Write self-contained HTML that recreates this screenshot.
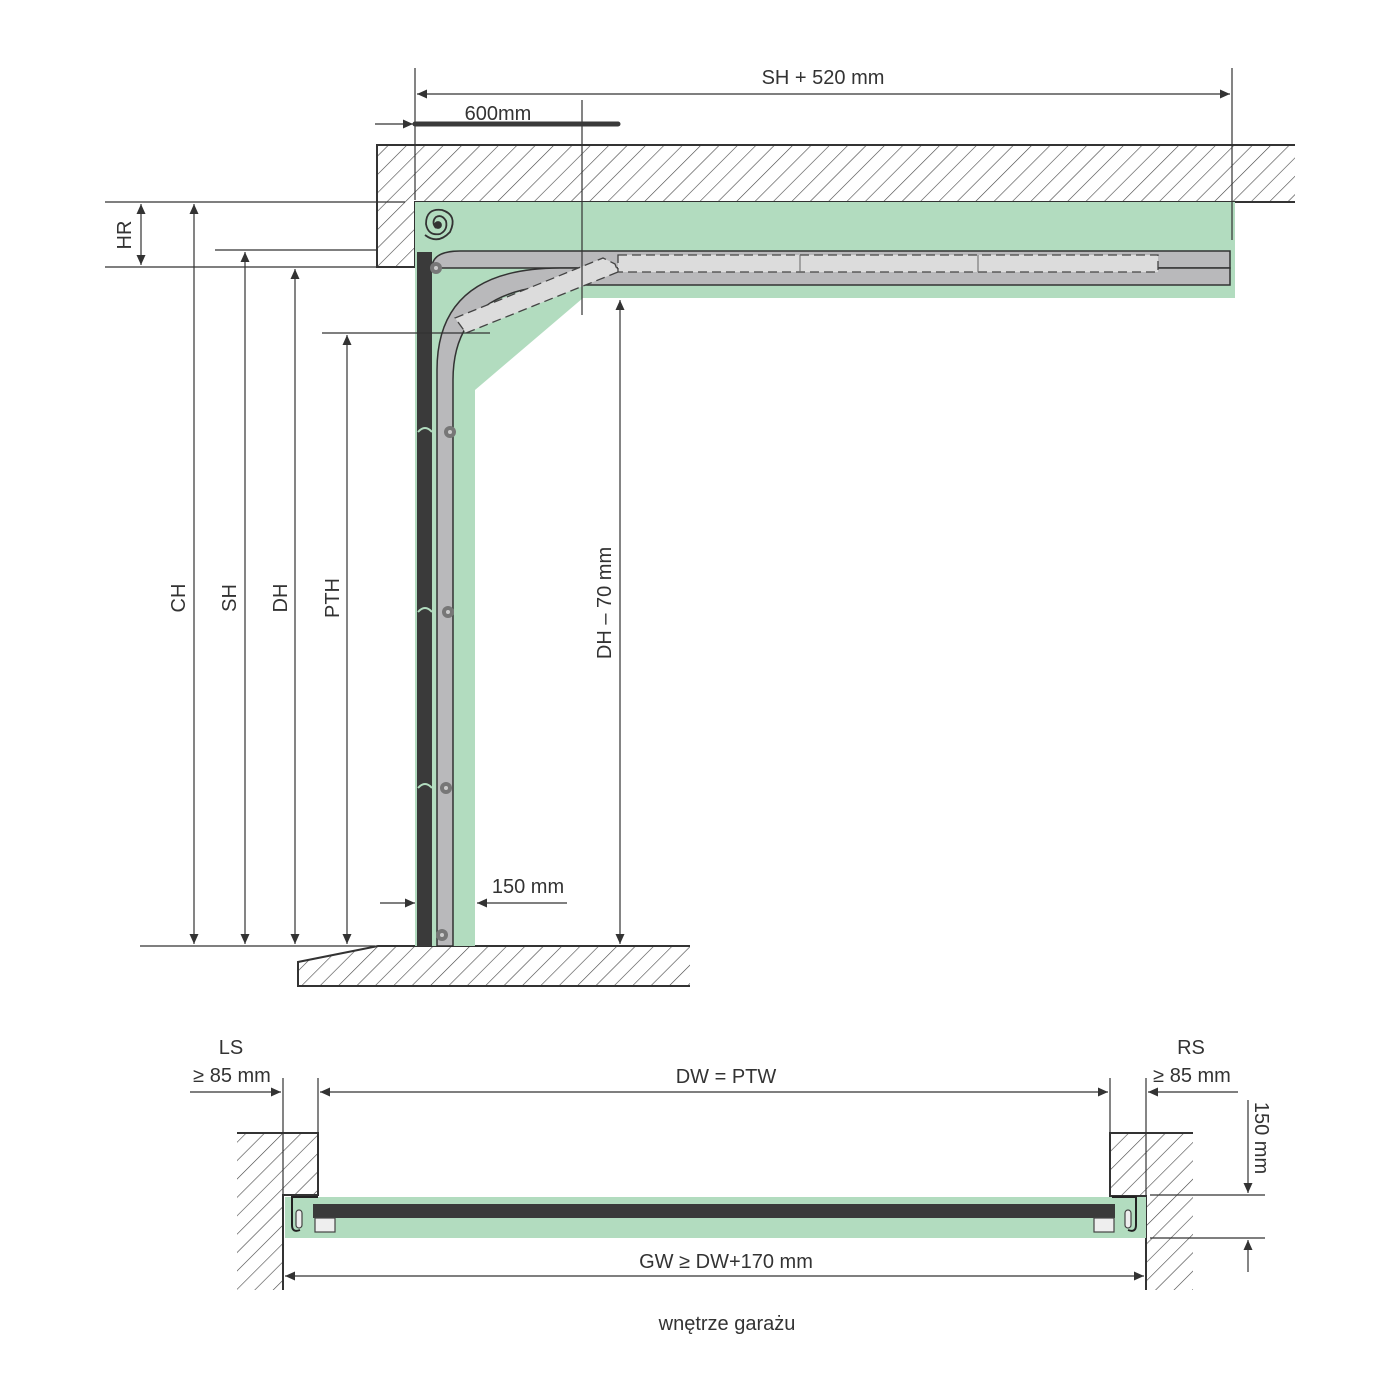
<!DOCTYPE html>
<html><head><meta charset="utf-8"><style>
html,body{margin:0;padding:0;background:#fff;}
svg{display:block}
text{font-family:"Liberation Sans",sans-serif;fill:#333;}
</style></head><body>
<svg width="1400" height="1400" viewBox="0 0 1400 1400" xmlns="http://www.w3.org/2000/svg">
<defs>
<pattern id="h" patternUnits="userSpaceOnUse" width="13" height="13" patternTransform="rotate(45)">
<line x1="0" y1="0" x2="0" y2="13" stroke="#444" stroke-width="1.2"/>
</pattern>
<marker id="a" viewBox="0 0 10 10" refX="10" refY="5" markerWidth="15" markerHeight="10" markerUnits="userSpaceOnUse" orient="auto-start-reverse">
<path d="M0,0.5 L10,5 L0,9.5 z" fill="#333"/></marker>
</defs>

<!-- ceiling -->
<path d="M377,145 H1295 V202 H415 V267 H377 Z" fill="url(#h)"/>
<path d="M1295,145 H377 V267 H415 V202 H1295" fill="none" stroke="#333" stroke-width="2"/>
<!-- floor -->
<path d="M298,962 L378,946 H690 V986 H298 Z" fill="url(#h)"/>
<path d="M690,946 H378 L298,962 V986 H690" fill="none" stroke="#333" stroke-width="2"/>

<!-- green -->
<path d="M415,202 H1235 V298 H583 L475,390 V946 H415 Z" fill="#b2dcbf"/>

<!-- horizontal upper track -->
<path d="M432,268 Q432,251 460,251 H1230 V268 Z" fill="#b9b9bb" stroke="#333" stroke-width="1.5"/>
<!-- curved lower track -->
<path d="M437,946 V370 Q437,268 560,268 H1230 V285 H570 Q453,285 453,380 V946 Z" fill="#b9b9bb" stroke="#333" stroke-width="1.5"/>
<!-- dashed panels -->
<path d="M455,318 L603,258 L615,264 L618,272 L466,333 Z" fill="#dcdcdc" stroke="#444" stroke-width="1.3" stroke-dasharray="9,5"/>
<rect x="618" y="255" width="540" height="17" fill="#dcdcdc" stroke="#444" stroke-width="1.3" stroke-dasharray="9,5"/>
<line x1="800" y1="255" x2="800" y2="272" stroke="#666"/>
<line x1="978" y1="255" x2="978" y2="272" stroke="#666"/>
<!-- door panel -->
<rect x="417" y="252" width="15" height="694" fill="#3a3a3a"/>
<g fill="none" stroke="#b2dcbf" stroke-width="2">
<path d="M418,432 Q425,424 432,432"/><path d="M418,612 Q425,604 432,612"/><path d="M418,788 Q425,780 432,788"/></g>
<!-- rollers -->
<g fill="#777"><circle cx="436" cy="268" r="6"/><circle cx="450" cy="432" r="6"/><circle cx="448" cy="612" r="6"/><circle cx="446" cy="788" r="6"/><circle cx="442" cy="935" r="6"/></g>
<g fill="#ccc"><circle cx="436" cy="268" r="2"/><circle cx="450" cy="432" r="2"/><circle cx="448" cy="612" r="2"/><circle cx="446" cy="788" r="2"/><circle cx="442" cy="935" r="2"/></g>
<!-- spring -->
<g fill="none" stroke="#333" stroke-width="1.8"><path d="M425,235 Q438,245 450,232 Q458,215 442,210 Q426,208 426,224 Q428,236 440,234 Q448,230 446,221 Q442,214 436,217 Q431,222 436,228"/><circle cx="438" cy="225" r="3" fill="#333"/></g>

<!-- dimension lines -->
<g stroke="#333" stroke-width="1.2" fill="none">
<line x1="415" y1="68" x2="415" y2="200"/>
<line x1="1232" y1="68" x2="1232" y2="240"/>
<line x1="582" y1="100" x2="582" y2="315"/>
<line x1="417" y1="94" x2="1230" y2="94" marker-start="url(#a)" marker-end="url(#a)"/>
<line x1="375" y1="124" x2="413" y2="124" marker-end="url(#a)"/>
<line x1="105" y1="202" x2="405" y2="202"/>
<line x1="105" y1="267" x2="377" y2="267"/>
<line x1="215" y1="250" x2="377" y2="250"/>
<line x1="322" y1="333" x2="490" y2="333"/>
<line x1="140" y1="946" x2="375" y2="946"/>
<line x1="141" y1="204" x2="141" y2="265" marker-start="url(#a)" marker-end="url(#a)"/>
<line x1="194" y1="204" x2="194" y2="944" marker-start="url(#a)" marker-end="url(#a)"/>
<line x1="245" y1="252" x2="245" y2="944" marker-start="url(#a)" marker-end="url(#a)"/>
<line x1="295" y1="269" x2="295" y2="944" marker-start="url(#a)" marker-end="url(#a)"/>
<line x1="347" y1="335" x2="347" y2="944" marker-start="url(#a)" marker-end="url(#a)"/>
<line x1="620" y1="300" x2="620" y2="944" marker-start="url(#a)" marker-end="url(#a)"/>
<line x1="380" y1="903" x2="415" y2="903" marker-end="url(#a)"/>
<line x1="567" y1="903" x2="477" y2="903" marker-end="url(#a)"/>
</g>
<line x1="415" y1="124" x2="618" y2="124" stroke="#3a3a3a" stroke-width="5" stroke-linecap="round"/>

<g font-size="20">
<text x="823" y="84" text-anchor="middle">SH + 520 mm</text>
<text x="498" y="120" text-anchor="middle">600mm</text>
<text x="528" y="893" text-anchor="middle">150 mm</text>
<text transform="translate(131,235) rotate(-90)" text-anchor="middle">HR</text>
<text transform="translate(185,598) rotate(-90)" text-anchor="middle">CH</text>
<text transform="translate(236,598) rotate(-90)" text-anchor="middle">SH</text>
<text transform="translate(287,598) rotate(-90)" text-anchor="middle">DH</text>
<text transform="translate(339,598) rotate(-90)" text-anchor="middle">PTH</text>
<text transform="translate(611,603) rotate(-90)" text-anchor="middle">DH – 70 mm</text>
</g>

<!-- plan view -->
<path d="M237,1133 H318 V1195 H283 V1290 H237 Z" fill="url(#h)"/>
<path d="M237,1133 H318 V1195 H283 V1290" fill="none" stroke="#333" stroke-width="2"/>
<path d="M1110,1133 H1193 V1290 H1146 V1196 H1110 Z" fill="url(#h)"/>
<path d="M1193,1133 H1110 V1196 H1146 V1290" fill="none" stroke="#333" stroke-width="2"/>
<rect x="285" y="1197" width="861" height="41" fill="#b2dcbf"/>
<rect x="313" y="1204" width="802" height="14" fill="#3a3a3a"/>
<g fill="#eee" stroke="#444" stroke-width="1.2">
<rect x="315" y="1218" width="20" height="14"/><rect x="1094" y="1218" width="20" height="14"/>
<rect x="296" y="1210" width="6" height="18" rx="3"/><rect x="1125" y="1210" width="6" height="18" rx="3"/>
</g>
<g fill="none" stroke="#222" stroke-width="2">
<path d="M318,1197 H292 V1225 Q292,1233 300,1230"/>
<path d="M1112,1197 H1136 V1225 Q1136,1233 1128,1230"/>
</g>
<g stroke="#333" stroke-width="1.2" fill="none">
<line x1="283" y1="1078" x2="283" y2="1195"/>
<line x1="318" y1="1078" x2="318" y2="1133"/>
<line x1="1110" y1="1078" x2="1110" y2="1133"/>
<line x1="1146" y1="1078" x2="1146" y2="1196"/>
<line x1="320" y1="1092" x2="1108" y2="1092" marker-start="url(#a)" marker-end="url(#a)"/>
<line x1="190" y1="1092" x2="281" y2="1092" marker-end="url(#a)"/>
<line x1="1238" y1="1092" x2="1148" y2="1092" marker-end="url(#a)"/>
<line x1="285" y1="1276" x2="1144" y2="1276" marker-start="url(#a)" marker-end="url(#a)"/>
<line x1="1150" y1="1195" x2="1265" y2="1195"/>
<line x1="1150" y1="1238" x2="1265" y2="1238"/>
<line x1="1248" y1="1100" x2="1248" y2="1193" marker-end="url(#a)"/>
<line x1="1248" y1="1272" x2="1248" y2="1240" marker-end="url(#a)"/>
</g>
<g font-size="20">
<text x="231" y="1054" text-anchor="middle">LS</text>
<text x="232" y="1082" text-anchor="middle">≥ 85 mm</text>
<text x="1191" y="1054" text-anchor="middle">RS</text>
<text x="1192" y="1082" text-anchor="middle">≥ 85 mm</text>
<text x="726" y="1083" text-anchor="middle">DW = PTW</text>
<text x="726" y="1268" text-anchor="middle">GW ≥ DW+170 mm</text>
<text transform="translate(1255,1138) rotate(90)" text-anchor="middle">150 mm</text>
<text x="727" y="1330" text-anchor="middle">wnętrze garażu</text>
</g>
</svg>
</body></html>
